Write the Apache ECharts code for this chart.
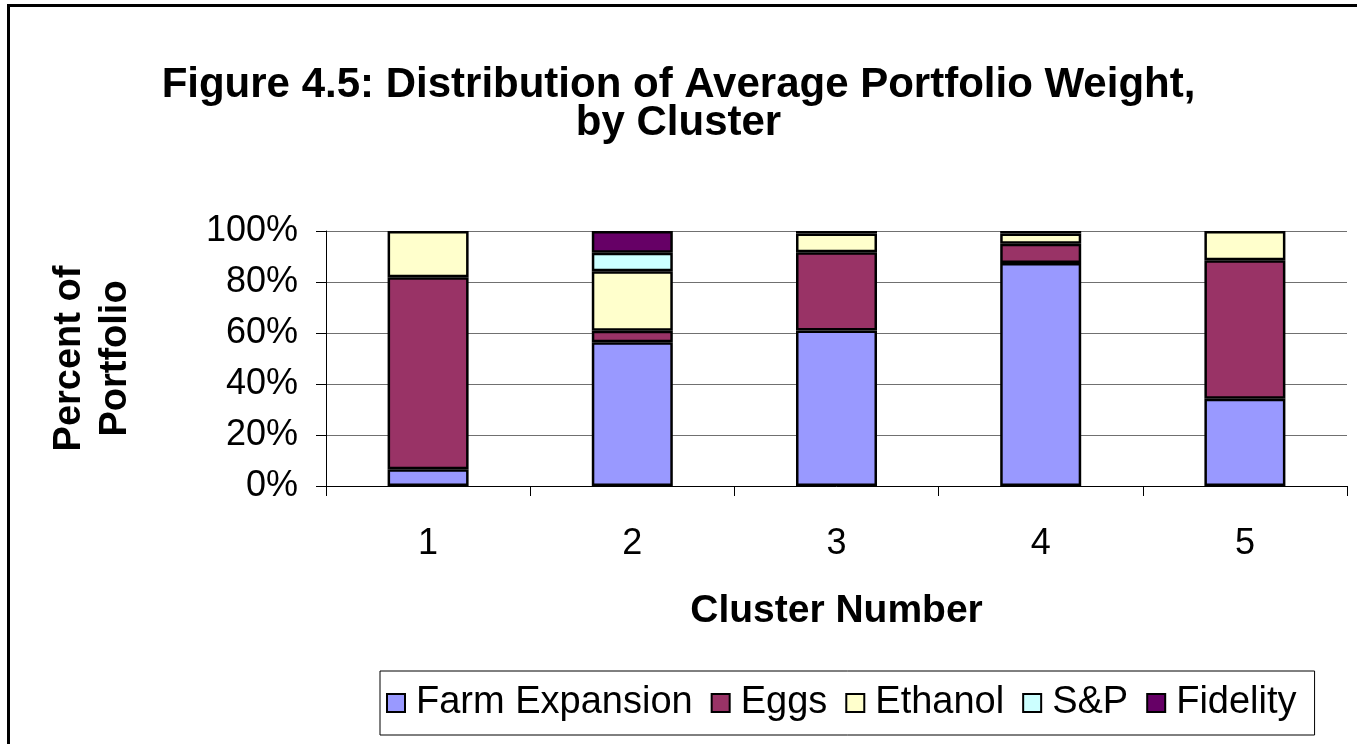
<!DOCTYPE html>
<html>
<head>
<meta charset="utf-8">
<script src="https://cdn.jsdelivr.net/npm/echarts@6/dist/echarts.min.js"></script>
<style>
  html, body { margin: 0; padding: 0; background: #fff; }
  #chart { width: 1357px; height: 744px; }
</style>
</head>
<body>
<div id="chart"></div>
<script>
// categories (cluster number)
const clusters = ["1", "2", "3", "4", "5"];

// average portfolio weight, percent of portfolio
const farmExpansion = [6.6, 56.4, 61.0, 87.5, 34.2];
const eggs          = [75.3, 4.5, 30.7, 7.5, 54.3];
const ethanol       = [18.1, 23.3, 7.3, 4.0, 11.5];
const sandp         = [null, 7.3, null, null, null];
const fidelity      = [null, 8.5, 1.0, 1.0, null];

const yTicks = [0, 20, 40, 60, 80, 100];

const FONT = "'Liberation Sans', Arial, sans-serif";

const seriesDefs = [
  { name: "Farm Expansion", data: farmExpansion, color: "#9999FF" },
  { name: "Eggs",           data: eggs,          color: "#993366" },
  { name: "Ethanol",        data: ethanol,       color: "#FFFFCC" },
  { name: "S&P",            data: sandp,         color: "#CCFFFF" },
  { name: "Fidelity",       data: fidelity,      color: "#660066" },
];

const chart = echarts.init(document.getElementById("chart"), null, { renderer: "canvas" });

chart.setOption({
  animation: false,
  backgroundColor: "#fff",
  textStyle: { fontFamily: FONT },
  title: {
    text: "Figure 4.5: Distribution of Average Portfolio Weight,\nby Cluster",
    left: "center",
    top: 61,
    textStyle: { fontFamily: FONT, fontSize: 42, fontWeight: "bold", color: "#000", lineHeight: 38 },
  },
  grid: { left: 326, right: 10, top: 231, bottom: 258 },
  legend: {
    bottom: 9,
    left: 380,
    icon: "rect",
    itemWidth: 18,
    itemHeight: 18,
    itemGap: 18,
    padding: [13, 18, 13, 6],
    borderColor: "#000",
    borderWidth: 1,
    textStyle: { fontFamily: FONT, fontSize: 38, color: "#000", padding: [0, 0, 0, 6] },
    itemStyle: { borderColor: "#000", borderWidth: 2 },
    data: seriesDefs.map(s => s.name),
  },
  xAxis: {
    type: "category",
    data: clusters,
    name: "Cluster Number",
    nameLocation: "middle",
    nameGap: 106,
    nameTextStyle: { fontFamily: FONT, fontSize: 39, fontWeight: "bold", color: "#000" },
    axisLine: { lineStyle: { color: "#000", width: 1 } },
    axisTick: { show: true, length: 10, lineStyle: { color: "#000" } },
    axisLabel: { fontFamily: FONT, fontSize: 36, color: "#000", margin: 40 },
  },
  yAxis: {
    type: "value",
    min: yTicks[0],
    max: yTicks[yTicks.length - 1],
    interval: 20,
    name: "Percent of\nPortfolio",
    nameLocation: "middle",
    nameGap: 187,
    nameRotate: 90,
    nameTextStyle: { fontFamily: FONT, fontSize: 38, fontWeight: "bold", color: "#000", lineHeight: 46 },
    axisLine: { show: true, lineStyle: { color: "#000", width: 1 } },
    axisTick: { show: true, length: 10, lineStyle: { color: "#000" } },
    axisLabel: { fontFamily: FONT, fontSize: 36, color: "#000", margin: 28, formatter: "{value}%" },
    splitLine: { show: true, lineStyle: { color: "#707070", width: 1 } },
  },
  series: seriesDefs.map(s => ({
    name: s.name,
    type: "bar",
    stack: "total",
    data: s.data,
    barWidth: 81,
    itemStyle: { color: s.color, borderColor: "#000", borderWidth: 2.5 },
  })),
  graphic: [{
    type: "rect",
    shape: { x: 8.5, y: 5.5, width: 1400, height: 800 },
    style: { fill: null, stroke: "#000", lineWidth: 3 },
    silent: true,
    z: 100,
  }],
});
</script>
</body>
</html>
